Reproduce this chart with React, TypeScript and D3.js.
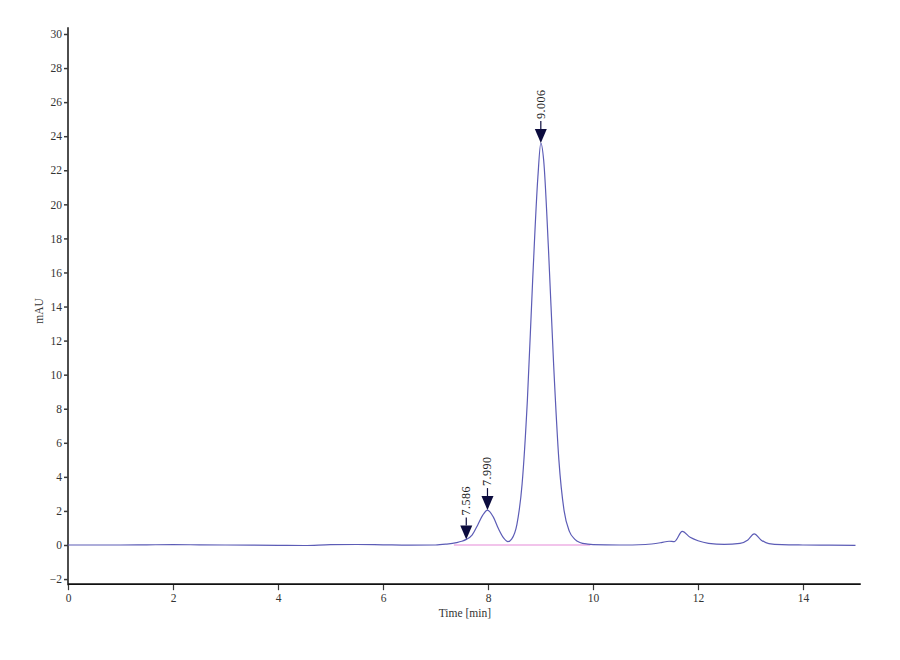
import React, { useRef, useEffect } from 'react';
import * as d3 from 'd3';

// chromatogram trace (time in min, signal in mAU)
const times = [
  0, 0.5, 1, 1.5, 2, 2.5, 3, 3.5, 4, 4.5, 5, 5.5, 6, 6.5, 7, 7.2, 7.4, 7.5, 7.586,
  7.7, 7.8, 7.9, 7.99, 8.1, 8.2, 8.3, 8.38, 8.45, 8.55, 8.65, 8.75, 8.85, 8.95, 9.006,
  9.06, 9.15, 9.25, 9.35, 9.45, 9.55, 9.65, 9.75, 9.9, 10.0, 10.5, 11.0, 11.3, 11.45,
  11.55, 11.7, 11.85, 12.0, 12.2, 12.5, 12.8, 12.95, 13.07, 13.2, 13.35, 13.6, 14, 14.5, 15,
];
const signal = [
  0, 0, 0, 0.01, 0.02, 0.01, 0, -0.01, -0.02, -0.03, 0.02, 0.03, 0.01, -0.01, 0, 0.05, 0.14, 0.22, 0.33,
  0.6, 1.15, 1.75, 2.05, 1.65, 0.95, 0.4, 0.2, 0.35, 1.2, 3.6, 8.5, 15.5, 21.6, 23.6,
  22.6, 17.5, 10.6, 5.0, 2.0, 0.8, 0.35, 0.15, 0.05, 0.02, 0, 0.03, 0.14, 0.22,
  0.2, 0.8, 0.45, 0.25, 0.1, 0.04, 0.1, 0.3, 0.65, 0.3, 0.08, 0.02, 0, -0.01, -0.02,
];

// integrated peaks, marked with arrows
const peakTimes = [7.586, 7.99, 9.006];
const peakLabels = ['7.586', '7.990', '9.006'];
const peakHeights = [0.33, 2.05, 23.6];

// integration baseline
const baseStart = 7.35;
const baseEnd = 9.95;

const xTicks = [0, 2, 4, 6, 8, 10, 12, 14];
const yTicks = [-2, 0, 2, 4, 6, 8, 10, 12, 14, 16, 18, 20, 22, 24, 26, 28, 30];

const width = 900;
const height = 660;

const App: React.FC = () => {
  const svgRef = useRef<SVGSVGElement | null>(null);

  useEffect(() => {
    if (!svgRef.current) return;
    const svg = d3.select(svgRef.current);
    svg.selectAll('*').remove();

    const x = d3.scaleLinear().domain([0, 15]).range([68, 855.5]);
    const y = d3.scaleLinear().domain([0, 30]).range([545, 34]);
    const font = '"Liberation Serif", "DejaVu Serif", serif';

    const axisColor = '#3a3a3a';
    const yBottom = y(-2.3);
    const yTop = y(30.4);

    // y axis
    const gy = svg.append('g').attr('transform', `translate(${x(0)},0)`)
      .call(d3.axisLeft(y).tickValues(yTicks).tickSize(4).tickPadding(2).tickFormat(d3.format('d')));
    gy.select('.domain').remove();
    gy.selectAll('line').attr('stroke', axisColor).attr('stroke-width', 1.5);
    gy.selectAll('text').attr('font-family', font).attr('font-size', 11.5).attr('fill', '#333');
    svg.append('line')
      .attr('x1', x(0)).attr('x2', x(0)).attr('y1', yTop).attr('y2', yBottom + 1)
      .attr('stroke', axisColor).attr('stroke-width', 1.8);

    // x axis
    const gx = svg.append('g').attr('transform', `translate(0,${yBottom})`)
      .call(d3.axisBottom(x).tickValues(xTicks).tickSize(6).tickPadding(4).tickFormat(d3.format('d')));
    gx.select('.domain').remove();
    gx.selectAll('line').attr('stroke', axisColor).attr('stroke-width', 1.2);
    gx.selectAll('text').attr('font-family', font).attr('font-size', 11.5).attr('fill', '#333');
    svg.append('line')
      .attr('x1', x(0)).attr('x2', x(15.1)).attr('y1', yBottom).attr('y2', yBottom)
      .attr('stroke', '#111').attr('stroke-width', 1.8);

    // axis titles
    svg.append('text')
      .attr('transform', `translate(43,311) rotate(-90)`)
      .attr('text-anchor', 'middle')
      .attr('font-family', font).attr('font-size', 11.5).attr('fill', '#333')
      .text('mAU');
    svg.append('text')
      .attr('x', x(7.56)).attr('y', 617)
      .attr('text-anchor', 'middle')
      .attr('font-family', font).attr('font-size', 11.5).attr('fill', '#333')
      .text('Time [min]');

    // baseline
    svg.append('line')
      .attr('x1', x(baseStart)).attr('x2', x(baseEnd)).attr('y1', y(0)).attr('y2', y(0))
      .attr('stroke', '#e58ad8').attr('stroke-width', 1.2);

    // trace
    const pts: [number, number][] = times.map((t, i) => [t, signal[i]]);
    const line = d3.line<[number, number]>()
      .x(d => x(d[0]))
      .y(d => y(d[1]))
      .curve(d3.curveMonotoneX);
    svg.append('path')
      .attr('d', line(pts))
      .attr('fill', 'none')
      .attr('stroke', '#5c5cb6')
      .attr('stroke-width', 1.2);

    // peak markers
    peakTimes.forEach((t, i) => {
      const px = x(t);
      const py = y(peakHeights[i]);
      const g = svg.append('g').attr('transform', `translate(${px},${py})`);
      g.append('path')
        .attr('d', 'M0,0 L-6,-14 L6,-14 Z')
        .attr('fill', '#0c0c3e');
      g.append('line')
        .attr('x1', 0).attr('x2', 0).attr('y1', -14).attr('y2', -22)
        .attr('stroke', '#0c0c3e').attr('stroke-width', 1.2);
      g.append('text')
        .attr('transform', 'translate(4,-24) rotate(-90)')
        .attr('font-family', font).attr('font-size', 12).attr('fill', '#222')
        .attr('letter-spacing', 0.5)
        .text(peakLabels[i]);
    });
  }, []);

  return (
    <svg
      ref={svgRef}
      width={width}
      height={height}
      style={{ position: 'absolute', left: 0, top: 0, background: '#fff' }}
    />
  );
};

export default App;
